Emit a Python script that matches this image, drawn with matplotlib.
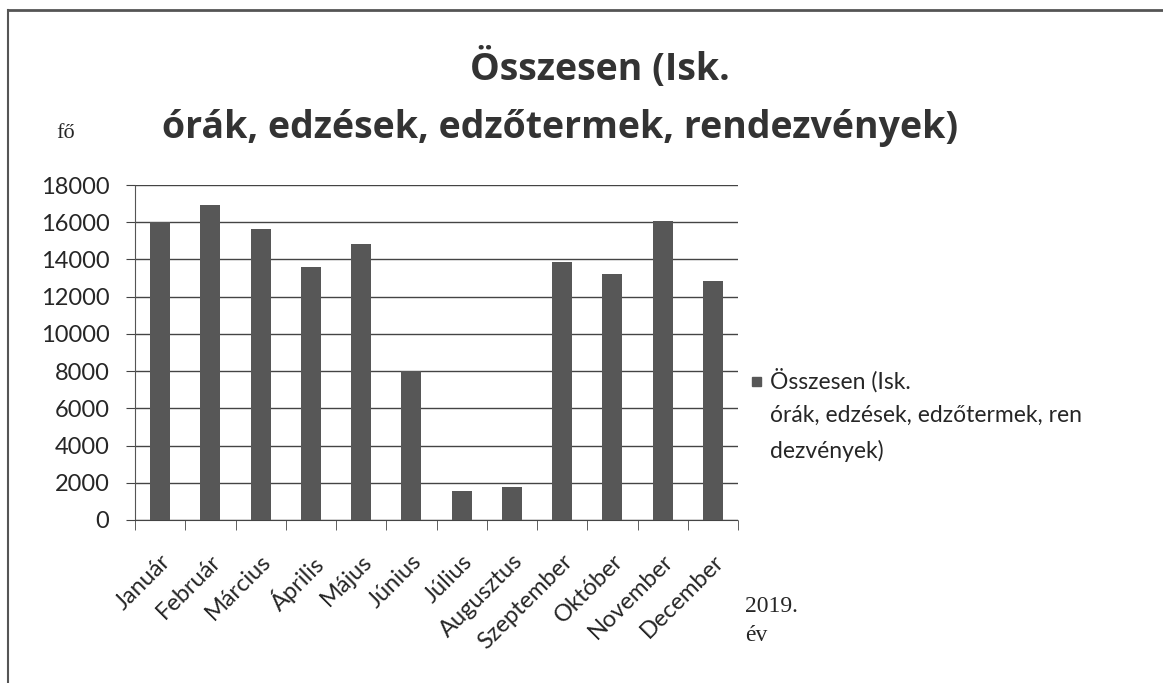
#importing required modules
import matplotlib.pyplot as plt
from matplotlib.patches import Rectangle
import numpy as np

#data
months = ["Január", "Február", "Március", "Április", "Május", "Június",
          "Július", "Augusztus", "Szeptember", "Október", "November", "December"]
totals = [16000, 16950, 15650, 13600, 14850, 8000,
          1570, 1780, 13860, 13240, 16080, 12820]
y_ticks = list(range(0, 18001, 2000))

title_line1 = "Összesen (Isk."
title_line2 = "órák, edzések, edzőtermek, rendezvények)"
legend_label = "Összesen (Isk.\nórák, edzések, edzőtermek, ren\ndezvények)"

bar_color = "#575757"
text_color = "#262626"

plt.rcParams['font.family'] = ['Lato', 'DejaVu Sans']

W, H = 1163, 683
fig = plt.figure(figsize=(W / 100, H / 100), dpi=100)
ax = fig.add_axes([135 / W, 1 - 520 / H, (738 - 135) / W, (520 - 185) / H])

x = np.arange(len(months))
ax.bar(x, totals, width=0.4, color=bar_color, zorder=3)

ax.set_xlim(-0.5, len(months) - 0.5)
ax.set_ylim(0, 18000)
ax.set_yticks(y_ticks)
ax.set_yticklabels([str(v) for v in y_ticks], fontsize=17, color=text_color)
ax.yaxis.grid(True, color="#444444", linewidth=1.0, zorder=0)

#category ticks at the boundaries, labels in the middle
ax.set_xticks(x)
ax.set_xticklabels(months, rotation=45, ha="right", rotation_mode="anchor",
                   fontsize=17, color=text_color)
ax.tick_params(axis="x", length=0, pad=22)
ax.set_xticks(np.arange(-0.5, len(months), 1), minor=True)
ax.tick_params(axis="x", which="minor", length=7, color="#444444")
ax.tick_params(axis="y", length=6.5, color="#444444", pad=12)

for side in ["top", "right"]:
    ax.spines[side].set_visible(False)
ax.spines["left"].set_color("#555555")
ax.spines["bottom"].set_color("#444444")
ax.spines["left"].set_linestyle((0, (1, 1)))
ax.spines["bottom"].set_linestyle((0, (2, 1)))

#title and side labels
title_font = ["Open Sans", "DejaVu Sans"]
fig.text(600 / W, 1 - 68 / H, title_line1, ha="center", va="center",
         fontsize=27, fontweight="bold", color="#333333", family=title_font)
fig.text(560 / W, 1 - 128 / H, title_line2, ha="center", va="center",
         fontsize=27, fontweight="bold", color="#333333", family=title_font)
fig.text(56 / W, 1 - 133 / H, "fő", fontsize=16, va="center",
         family=["Liberation Serif"], color=text_color)
fig.text(745 / W, 1 - 621 / H, "2019.\név", fontsize=17, va="center",
         family=["Liberation Serif"], color=text_color, linespacing=1.55)

#legend: small square next to the first line of the label
fig.add_artist(Rectangle((752 / W, 1 - 386 / H), 9 / W, 9 / H,
                         transform=fig.transFigure, color=bar_color))
fig.text(770 / W, 1 - 368 / H, legend_label, fontsize=16.5, va="top", ha="left",
         color=text_color, linespacing=1.75)

#scanned frame edges
fig.add_artist(plt.Line2D([8 / W, 1], [1 - 10 / H] * 2, color="#555555", lw=2))
fig.add_artist(plt.Line2D([8 / W] * 2, [0, 1 - 10 / H], color="#555555", lw=1.5))

fig.savefig("out.png", dpi=100)
